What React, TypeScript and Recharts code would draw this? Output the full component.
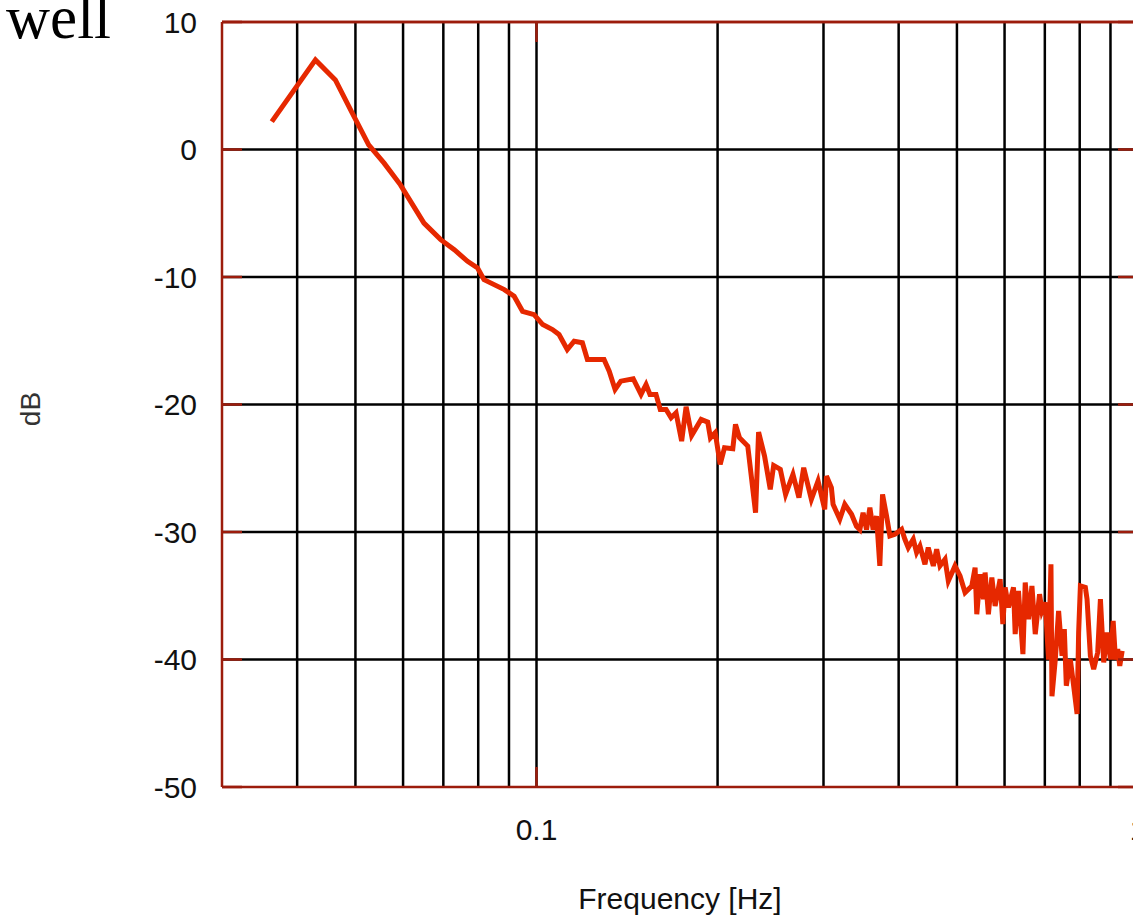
import React from 'react';
import { LineChart, Line, XAxis, YAxis, ReferenceLine } from 'recharts';

// Frequency (Hz) of each vertex of the spectrum trace
const freqHz = [
  0.0363, 0.0429, 0.0463, 0.0494, 0.0526, 0.0558, 0.0594, 0.065, 0.0693, 0.073,
  0.0768, 0.0798, 0.0818, 0.0884, 0.0918, 0.0948, 0.0991, 0.1024, 0.1063, 0.109,
  0.1125, 0.1155, 0.1192, 0.1215, 0.1295, 0.1321, 0.1351, 0.1381, 0.1448, 0.1492,
  0.1521, 0.1544, 0.158, 0.1606, 0.1642, 0.1674, 0.1706, 0.1743, 0.1773, 0.1811,
  0.1878, 0.1926, 0.1946, 0.1982, 0.202, 0.2054, 0.212, 0.2142, 0.2175, 0.2245,
  0.2313, 0.234, 0.2394, 0.2447, 0.2479, 0.2543, 0.2595, 0.2669, 0.2731, 0.2781,
  0.2864, 0.2938, 0.3014, 0.3034, 0.3092, 0.3112, 0.3193, 0.3255, 0.334, 0.3404,
  0.3448, 0.3491, 0.3537, 0.3583, 0.3628, 0.3675, 0.3722, 0.3761, 0.3819, 0.3868,
  0.3943, 0.4046, 0.4097, 0.415, 0.423, 0.4285, 0.434, 0.4424, 0.448, 0.4568,
  0.4627, 0.4686, 0.4777, 0.4838, 0.4963, 0.506, 0.5158, 0.5293, 0.536, 0.5395,
  0.5464, 0.5534, 0.5569, 0.564, 0.5715, 0.5787, 0.5899, 0.5961, 0.6014, 0.6091,
  0.6209, 0.6249, 0.6328, 0.6437, 0.6494, 0.6577, 0.6663, 0.6748, 0.686, 0.6923,
  0.7011, 0.7101, 0.7166, 0.7194, 0.7286, 0.7379, 0.7477, 0.7542, 0.76, 0.7718,
  0.7816, 0.792, 0.7967, 0.8021, 0.8175, 0.8228, 0.8333, 0.8439, 0.857, 0.866,
  0.877, 0.8886, 0.8999, 0.9093, 0.9173, 0.9253, 0.9326, 0.9412,
];

// Level (dB) at each vertex
const levelDb = [
  2.19, 7.03, 5.46, 2.85, 0.37, -1.07, -2.77, -5.77, -7.07, -7.86,
  -8.77, -9.29, -10.21, -10.99, -11.51, -12.69, -12.95, -13.73, -14.12, -14.51,
  -15.69, -15.04, -15.16, -16.47, -16.47, -17.39, -18.82, -18.17, -17.98, -19.21,
  -18.43, -19.21, -19.21, -20.39, -20.39, -21.04, -20.65, -22.87, -20.18, -22.43,
  -21.17, -21.38, -22.61, -22.21, -24.7, -23.39, -23.47, -21.56, -22.61, -23.26,
  -28.48, -22.17, -24.05, -26.65, -24.78, -25.09, -27.05, -25.48, -27.31, -24.96,
  -27.44, -26.0, -28.22, -25.61, -26.52, -27.83, -29.0, -27.83, -28.61, -29.55,
  -29.81, -28.48, -29.81, -28.09, -29.81, -28.75, -32.66, -27.05, -28.75, -30.31,
  -30.18, -29.79, -30.57, -31.22, -30.57, -31.61, -31.1, -32.53, -31.22, -32.66,
  -31.36, -32.66, -32.14, -33.84, -32.66, -33.45, -34.75, -34.23, -32.79, -36.45,
  -33.31, -35.27, -33.18, -36.45, -33.57, -35.8, -33.7, -37.23, -34.35, -35.92,
  -34.35, -38.01, -34.62, -39.58, -33.96, -36.84, -34.23, -38.01, -34.88, -36.19,
  -35.53, -40.0, -32.53, -42.88, -40.0, -36.19, -39.71, -37.62, -42.06, -40.0,
  -42.06, -44.28, -37.88, -34.23, -34.35, -35.27, -39.71, -40.75, -39.45, -35.27,
  -40.23, -37.88, -40.0, -36.97, -40.0, -39.19, -40.5, -39.32,
];

const xGridHz = [0.04, 0.05, 0.06, 0.07, 0.08, 0.09, 0.1, 0.2, 0.3, 0.4, 0.5, 0.6, 0.7, 0.8, 0.9];
const yGridDb = [-40, -30, -20, -10, 0];
const xMajorTicks = [0.1, 1];
const yTicks = [-50, -40, -30, -20, -10, 0, 10];
const xDomain = [0.03, 1];
const yDomain = [-50, 10];

const data = freqHz.map((f, i) => ({ f, db: levelDb[i] }));

const FRAME = '#9c1c0c';
const TRACE = '#e62800';
const FONT = '"Liberation Sans", Arial, Helvetica, sans-serif';
const blank = () => '';

export default function App() {
  return (
    <div
      style={{
        position: 'absolute',
        left: 0,
        top: 0,
        width: 1133,
        height: 917,
        overflow: 'hidden',
        background: '#fff',
      }}
    >
      <LineChart width={1150} height={917} data={data} margin={{ top: 21, right: 11, bottom: 0, left: 0 }}>
        {xGridHz.map((v) => (
          <ReferenceLine key={'gx' + v} x={v} stroke="#000" strokeWidth={2.5} />
        ))}
        {yGridDb.map((v) => (
          <ReferenceLine key={'gy' + v} y={v} stroke="#000" strokeWidth={2.5} />
        ))}
        <ReferenceLine y={yDomain[1]} stroke={FRAME} strokeWidth={2.5} />
        <ReferenceLine x={xDomain[1]} stroke={FRAME} strokeWidth={2.5} />
        <XAxis
          dataKey="f"
          type="number"
          scale="log"
          domain={xDomain}
          allowDataOverflow
          ticks={xMajorTicks}
          interval={0}
          tickFormatter={(v) => String(v)}
          height={130}
          tickSize={-20}
          tickMargin={52}
          tickLine={{ stroke: FRAME, strokeWidth: 2.5 }}
          axisLine={{ stroke: FRAME, strokeWidth: 2.5 }}
          tick={{ fontSize: 30, fill: '#111', fontFamily: FONT }}
          label={{
            value: 'Frequency [Hz]',
            position: 'insideBottom',
            offset: 8,
            fontSize: 30,
            fill: '#111',
            fontFamily: FONT,
          }}
        />
        <XAxis
          xAxisId="top"
          orientation="top"
          dataKey="f"
          type="number"
          scale="log"
          domain={xDomain}
          allowDataOverflow
          ticks={xMajorTicks}
          interval={0}
          height={1}
          tickSize={-20}
          tickFormatter={blank}
          tickLine={{ stroke: FRAME, strokeWidth: 2.5 }}
          axisLine={{ stroke: FRAME, strokeWidth: 2.5 }}
        />
        <YAxis
          type="number"
          domain={yDomain}
          allowDataOverflow
          ticks={yTicks}
          interval={0}
          width={222}
          tickSize={-20}
          tickMargin={45}
          tickLine={{ stroke: FRAME, strokeWidth: 2.5 }}
          axisLine={{ stroke: FRAME, strokeWidth: 2.5 }}
          tick={{ fontSize: 30, fill: '#111', fontFamily: FONT }}
        />
        <YAxis
          yAxisId="right"
          orientation="right"
          type="number"
          domain={yDomain}
          allowDataOverflow
          ticks={yTicks}
          interval={0}
          width={1}
          tickSize={-20}
          tickFormatter={blank}
          tickLine={{ stroke: FRAME, strokeWidth: 2.5 }}
          axisLine={{ stroke: FRAME, strokeWidth: 2.5 }}
        />
        <Line
          type="linear"
          dataKey="db"
          stroke={TRACE}
          strokeWidth={5}
          dot={false}
          activeDot={false}
          isAnimationActive={false}
        />
      </LineChart>
      <svg
        width={200}
        height={917}
        style={{ position: 'absolute', left: 0, top: 0, pointerEvents: 'none' }}
      >
        <text x={6} y={38} fontFamily='"Liberation Serif", "Times New Roman", serif' fontSize={61} fill="#000">
          well
        </text>
        <text
          x={40}
          y={409}
          transform="rotate(-90 40 409)"
          textAnchor="middle"
          fontFamily={FONT}
          fontSize={28}
          fill="#333"
        >
          dB
        </text>
      </svg>
    </div>
  );
}
